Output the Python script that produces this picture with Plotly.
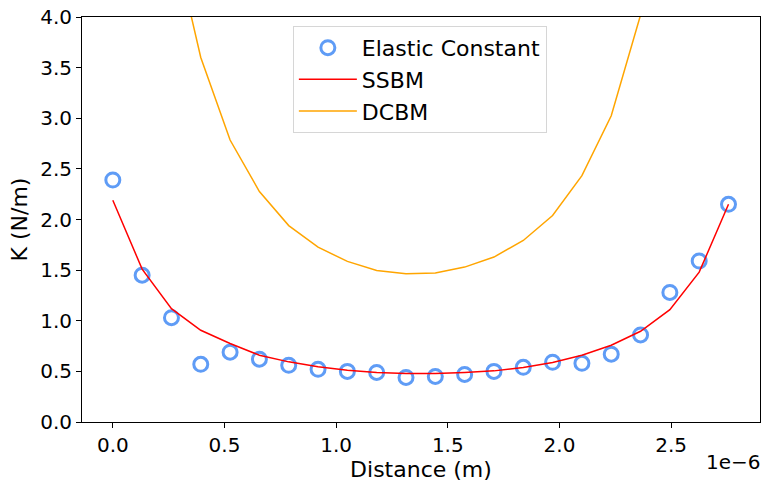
import plotly.graph_objects as go

# Data
distance_um = [i * 2.757 / 21 for i in range(22)]  # x positions in micrometres (evenly spaced samples)
distance = [d * 1e-6 for d in distance_um]

elastic_constant = [2.39, 1.45, 1.03, 0.57, 0.69, 0.62, 0.56, 0.52, 0.50, 0.49, 0.44,
                    0.45, 0.47, 0.50, 0.54, 0.59, 0.58, 0.67, 0.86, 1.28, 1.59, 2.15]
ssbm = [2.19, 1.51, 1.12, 0.906, 0.775, 0.66, 0.594, 0.545, 0.512, 0.49, 0.48,
        0.48, 0.49, 0.505, 0.539, 0.588, 0.66, 0.758, 0.896, 1.11, 1.48, 2.15]
dcbm = [15.0, 8.0, 4.85, 3.6, 2.785, 2.276, 1.94, 1.727, 1.586, 1.497, 1.465,
        1.471, 1.53, 1.629, 1.793, 2.04, 2.433, 3.025, 4.02, 5.6, 8.5, 16.0]

x_tick_vals = [0.0, 0.5e-6, 1.0e-6, 1.5e-6, 2.0e-6, 2.5e-6]
x_tick_text = ["0.0", "0.5", "1.0", "1.5", "2.0", "2.5"]
y_tick_vals = [0.0, 0.5, 1.0, 1.5, 2.0, 2.5, 3.0, 3.5, 4.0]
y_tick_text = ["0.0", "0.5", "1.0", "1.5", "2.0", "2.5", "3.0", "3.5", "4.0"]

FONT = "DejaVu Sans"

fig = go.Figure()
fig.add_trace(go.Scatter(
    x=distance, y=elastic_constant, mode="markers", name="Elastic Constant",
    marker=dict(symbol="circle-open", size=14, color="#5f9cf6",
                line=dict(width=3, color="#5f9cf6")),
))
fig.add_trace(go.Scatter(
    x=distance, y=ssbm, mode="lines", name="SSBM",
    line=dict(color="red", width=1.5),
))
fig.add_trace(go.Scatter(
    x=distance, y=dcbm, mode="lines", name="DCBM",
    line=dict(color="orange", width=1.5),
))

axis_common = dict(
    showline=True, linecolor="black", linewidth=1, mirror=True,
    ticks="outside", ticklen=5, tickwidth=1, tickcolor="black",
    showgrid=False, zeroline=False,
    tickfont=dict(family=FONT, size=20, color="black"),
)

fig.update_layout(
    width=761, height=482,
    margin=dict(l=82, r=1, t=17, b=60),
    paper_bgcolor="white", plot_bgcolor="white",
    font=dict(family=FONT, color="black"),
    xaxis=dict(range=[-0.138e-6, 2.898e-6], tickvals=x_tick_vals, ticktext=x_tick_text,
               title=dict(text="Distance (m)", font=dict(family=FONT, size=22, color="black"),
                          standoff=3),
               **axis_common),
    yaxis=dict(range=[0, 4], tickvals=y_tick_vals, ticktext=y_tick_text,
               title=dict(text="K (N/m)", font=dict(family=FONT, size=22, color="black"),
                          standoff=6),
               **axis_common),
    legend=dict(x=0.311, y=0.978, xanchor="left", yanchor="top",
                bgcolor="rgba(255,255,255,0.8)", bordercolor="#d6d6d6", borderwidth=1,
                font=dict(family=FONT, size=22, color="black"),
                itemwidth=58),
    showlegend=True,
    annotations=[dict(text="1e\u22126", xref="paper", yref="paper", x=1.0, y=-0.065,
                      xanchor="right", yanchor="top", showarrow=False, xshift=3,
                      font=dict(family=FONT, size=20, color="black"))],
)

fig.write_html("out.html")
